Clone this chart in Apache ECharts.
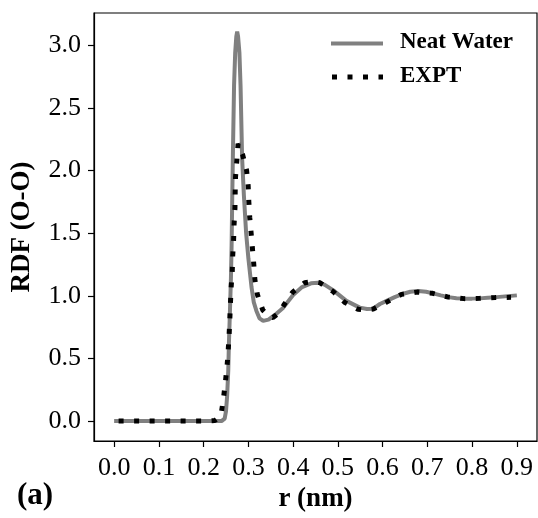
<!DOCTYPE html>
<html><head><meta charset="utf-8">
<script src="https://cdn.jsdelivr.net/npm/echarts@6/dist/echarts.min.js"></script>
<style>html,body{margin:0;padding:0;background:#fff}#c{width:538px;height:518px}</style>
</head><body><div id="c"></div>
<script>
const neatR = [0.0, 0.05, 0.1, 0.15, 0.2, 0.24, 0.2436, 0.247, 0.250, 0.2525, 0.255, 0.2565, 0.259, 0.261, 0.2625, 0.264, 0.2655, 0.268, 0.2705, 0.273, 0.275, 0.277, 0.280, 0.2825, 0.286, 0.29, 0.295, 0.30, 0.307, 0.312, 0.318, 0.325, 0.333, 0.345, 0.36, 0.378, 0.40, 0.42, 0.44, 0.456, 0.47, 0.49, 0.519, 0.549, 0.565, 0.579, 0.594, 0.609, 0.627, 0.646, 0.662, 0.68, 0.697, 0.713, 0.73, 0.747, 0.765, 0.78, 0.80, 0.817, 0.835, 0.855, 0.88, 0.9];
const neatG = [0, 0, 0, 0, 0, 0, 0.003, 0.02, 0.08, 0.2, 0.4, 0.62, 0.9, 1.14, 1.4, 1.8, 2.15, 2.68, 2.94, 3.07, 3.11, 3.07, 2.94, 2.68, 2.1, 1.8, 1.5, 1.3, 1.07, 0.95, 0.88, 0.82, 0.80, 0.81, 0.85, 0.906, 1.007, 1.07, 1.10, 1.105, 1.09, 1.044, 0.96, 0.906, 0.895, 0.898, 0.935, 0.96, 0.99, 1.017, 1.033, 1.039, 1.033, 1.02, 1.004, 0.99, 0.981, 0.978, 0.978, 0.98, 0.985, 0.99, 0.998, 1.004];
const exptR = [0.01, 0.05, 0.1, 0.15, 0.2, 0.225, 0.235, 0.24, 0.245, 0.249, 0.2526, 0.255, 0.257, 0.2586, 0.26, 0.2615, 0.264, 0.265, 0.267, 0.268, 0.27, 0.2705, 0.2713, 0.274, 0.277, 0.281, 0.287, 0.296, 0.2995, 0.301, 0.303, 0.306, 0.309, 0.312, 0.3145, 0.32, 0.332, 0.345, 0.355, 0.367, 0.379, 0.399, 0.426, 0.445, 0.46, 0.49, 0.516, 0.545, 0.56, 0.579, 0.609, 0.642, 0.677, 0.712, 0.747, 0.782, 0.816, 0.851, 0.887];
const exptG = [0, 0, 0, 0, 0, 0.005, 0.03, 0.074, 0.2, 0.325, 0.45, 0.57, 0.695, 0.82, 0.946, 1.07, 1.197, 1.32, 1.448, 1.57, 1.7, 1.826, 1.95, 2.07, 2.215, 2.2, 2.13, 2.003, 1.88, 1.753, 1.628, 1.507, 1.382, 1.255, 1.131, 1.012, 0.888, 0.84, 0.827, 0.86, 0.925, 1.03, 1.105, 1.115, 1.105, 1.033, 0.946, 0.893, 0.887, 0.895, 0.95, 1.012, 1.03, 1.02, 0.99, 0.978, 0.98, 0.986, 0.988];
const xTicks = [0.0, 0.1, 0.2, 0.3, 0.4, 0.5, 0.6, 0.7, 0.8, 0.9];
const yTicks = [0.0, 0.5, 1.0, 1.5, 2.0, 2.5, 3.0];
const seriesNames = ['Neat Water', 'EXPT'];

const FONT = "'Liberation Serif', 'Times New Roman', serif";
const GRAY = '#808080';
const DOTS = [5, 10.5];
const chart = echarts.init(document.getElementById('c'), null, {renderer: 'canvas'});
chart.setOption({
  animation: false,
  backgroundColor: '#fff',
  grid: {left: 94, top: 13, width: 443, height: 431, show: true, borderColor: '#000', borderWidth: 1.2, backgroundColor: 'transparent'},
  xAxis: {
    type: 'value', min: -0.045, max: 0.945,
    name: 'r (nm)', nameLocation: 'middle', nameGap: 45,
    nameTextStyle: {fontFamily: FONT, fontSize: 27, fontWeight: 'bold', color: '#000'},
    axisLine: {show: true, onZero: false, lineStyle: {color: '#000', width: 1.2}},
    axisTick: {show: true, length: 6, customValues: xTicks, lineStyle: {color: '#000', width: 1.2}},
    axisLabel: {customValues: xTicks, formatter: v => v.toFixed(1), fontFamily: FONT, fontSize: 26, color: '#000', margin: 14},
    splitLine: {show: false}
  },
  yAxis: {
    type: 'value', min: -0.159, max: 3.259,
    name: 'RDF (O-O)', nameLocation: 'middle', nameGap: 58,
    nameTextStyle: {fontFamily: FONT, fontSize: 27, fontWeight: 'bold', color: '#000'},
    axisLine: {show: true, onZero: false, lineStyle: {color: '#000', width: 1.2}},
    axisTick: {show: true, length: 6, customValues: yTicks, lineStyle: {color: '#000', width: 1.2}},
    axisLabel: {customValues: yTicks, formatter: v => v.toFixed(1), fontFamily: FONT, fontSize: 26, color: '#000', margin: 13},
    splitLine: {show: false}
  },
  graphic: [
    {type: 'text', left: 17, top: 480, style: {text: '(a)', font: "bold 31px " + FONT, fill: '#000'}},
    {type: 'line', shape: {x1: 331, y1: 43.5, x2: 383, y2: 43.5}, style: {stroke: GRAY, lineWidth: 4}},
    {type: 'line', shape: {x1: 332, y1: 77, x2: 383, y2: 77}, style: {stroke: '#000', lineWidth: 5, lineDash: DOTS, lineCap: 'butt'}},
    {type: 'text', left: 400, top: 31, style: {text: seriesNames[0], font: "bold 23px " + FONT, fill: '#000'}},
    {type: 'text', left: 400, top: 65, style: {text: seriesNames[1], font: "bold 23px " + FONT, fill: '#000'}}
  ],
  series: [
    {name: seriesNames[0], type: 'line', data: neatR.map((r, i) => [r, neatG[i]]), symbol: 'none', showSymbol: false,
     lineStyle: {color: GRAY, width: 4}, itemStyle: {color: GRAY}, z: 2},
    {name: seriesNames[1], type: 'line', data: exptR.map((r, i) => [r, exptG[i]]), symbol: 'none', showSymbol: false,
     lineStyle: {color: '#000', width: 5, type: DOTS, cap: 'butt'}, itemStyle: {color: '#000'}, z: 3}
  ]
});
</script></body></html>
